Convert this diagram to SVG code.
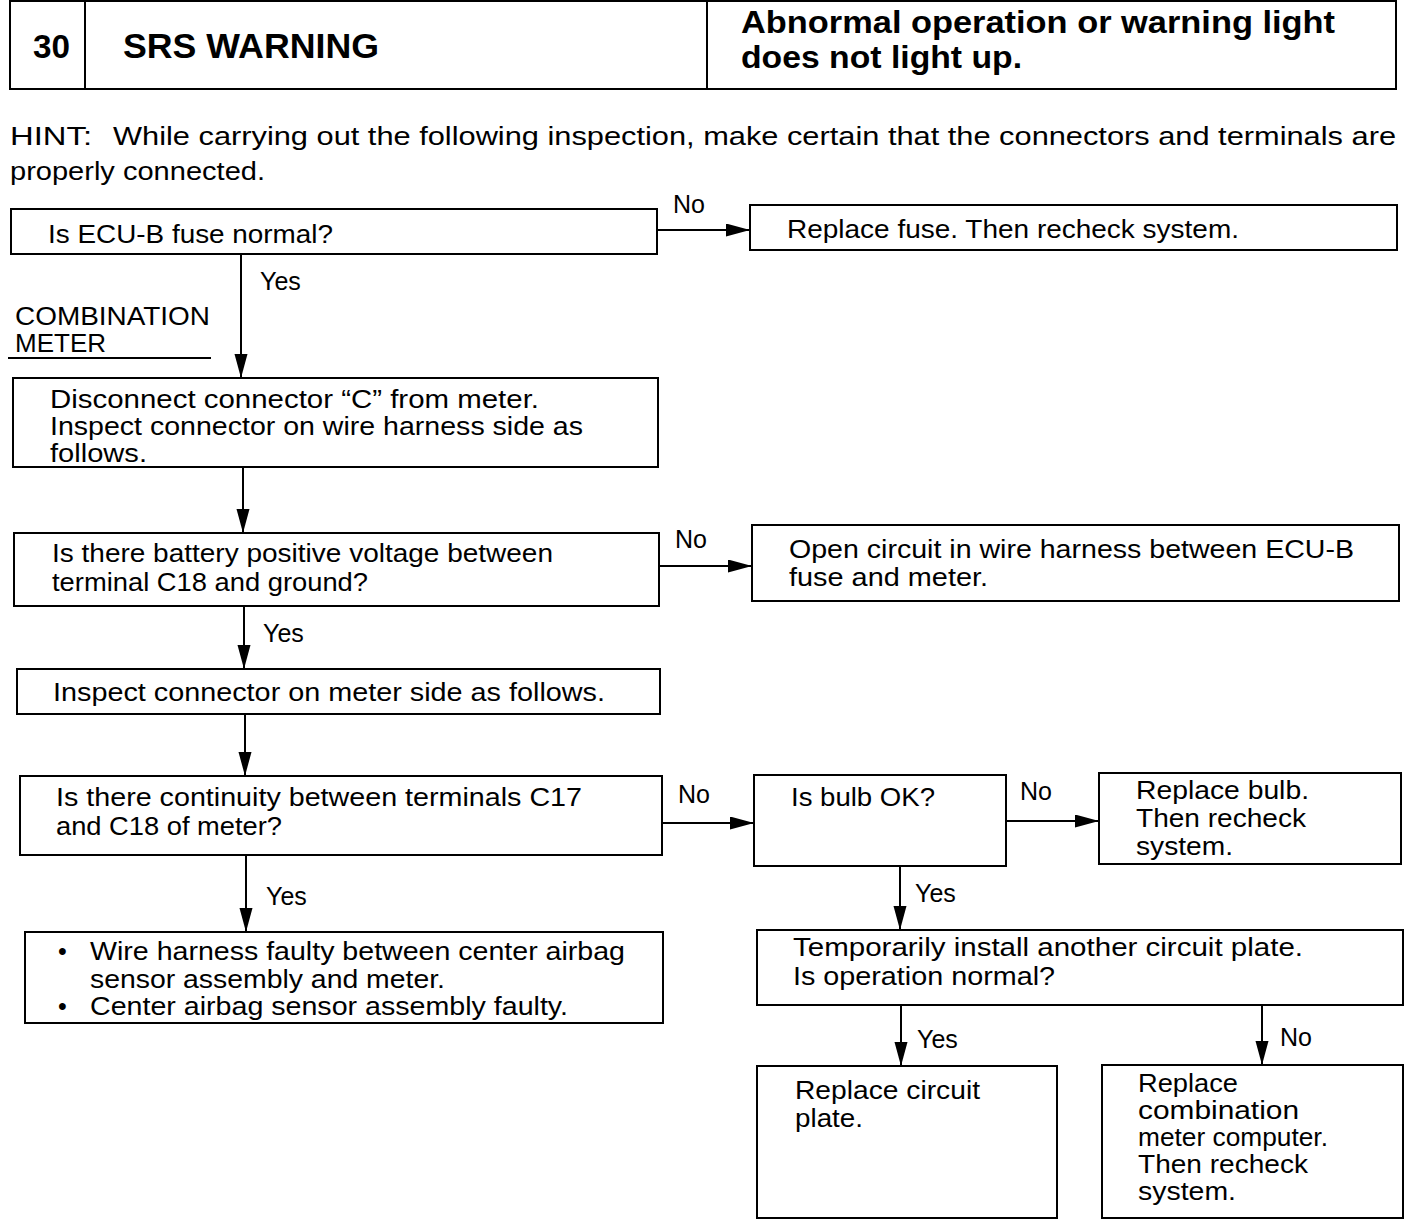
<svg xmlns="http://www.w3.org/2000/svg" width="1408" height="1230" viewBox="0 0 1408 1230">
<style>
.b{fill:#fff;stroke:#000;stroke-width:2}
.t{font-family:"Liberation Sans",Arial,sans-serif;font-size:25px;fill:#000}
.h{font-family:"Liberation Sans",Arial,sans-serif;font-weight:bold;fill:#000}
.c{stroke:#000;stroke-width:2;fill:none}
</style>
<defs>
<marker id="ah" markerUnits="userSpaceOnUse" markerWidth="26" markerHeight="14" refX="24" refY="6.5" orient="auto">
<path d="M0,0 L24,6.5 L0,13 z" fill="#000"/>
</marker>
</defs>
<rect width="1408" height="1230" fill="#fff"/>
<g id="header">
<rect class="b" x="10" y="1" width="1386" height="88" stroke-width="2.5"/>
<line class="c" x1="85" y1="1" x2="85" y2="89"/>
<line class="c" x1="707" y1="1" x2="707" y2="89"/>
<text class="h" x="33" y="58" font-size="33" textLength="37" lengthAdjust="spacingAndGlyphs">30</text>
<text class="h" x="123" y="58" font-size="35" textLength="256" lengthAdjust="spacingAndGlyphs">SRS WARNING</text>
<text class="h" x="741" y="33" font-size="32" textLength="594" lengthAdjust="spacingAndGlyphs">Abnormal operation or warning light</text>
<text class="h" x="741" y="68" font-size="32" textLength="281" lengthAdjust="spacingAndGlyphs">does not light up.</text>
</g>
<g id="hint">
<text class="t" x="10" y="145" textLength="82" lengthAdjust="spacingAndGlyphs">HINT:</text>
<text class="t" x="113" y="145" textLength="1283" lengthAdjust="spacingAndGlyphs">While carrying out the following inspection, make certain that the connectors and terminals are</text>
<text class="t" x="10" y="180" textLength="255" lengthAdjust="spacingAndGlyphs">properly connected.</text>
</g>
<g id="label-meter">
<text class="t" x="15" y="325" textLength="195" lengthAdjust="spacingAndGlyphs">COMBINATION</text>
<text class="t" x="15" y="352" textLength="91" lengthAdjust="spacingAndGlyphs">METER</text>
<line class="c" x1="8" y1="358" x2="211" y2="358" stroke-width="1.5"/>
</g>
<g id="connectors">
<line class="c" x1="657" y1="230" x2="750" y2="230" marker-end="url(#ah)"/>
<line class="c" x1="241" y1="254" x2="241" y2="378" marker-end="url(#ah)"/>
<line class="c" x1="243" y1="467" x2="243" y2="533" marker-end="url(#ah)"/>
<line class="c" x1="659" y1="566" x2="752" y2="566" marker-end="url(#ah)"/>
<line class="c" x1="244" y1="606" x2="244" y2="669" marker-end="url(#ah)"/>
<line class="c" x1="245" y1="714" x2="245" y2="776" marker-end="url(#ah)"/>
<line class="c" x1="662" y1="823" x2="754" y2="823" marker-end="url(#ah)"/>
<line class="c" x1="1006" y1="821" x2="1099" y2="821" marker-end="url(#ah)"/>
<line class="c" x1="246" y1="855" x2="246" y2="932" marker-end="url(#ah)"/>
<line class="c" x1="900" y1="866" x2="900" y2="930" marker-end="url(#ah)"/>
<line class="c" x1="901" y1="1005" x2="901" y2="1066" marker-end="url(#ah)"/>
<line class="c" x1="1262" y1="1005" x2="1262" y2="1065" marker-end="url(#ah)"/>
<text class="t" x="673" y="213">No</text>
<text class="t" x="260" y="290">Yes</text>
<text class="t" x="675" y="548">No</text>
<text class="t" x="263" y="642">Yes</text>
<text class="t" x="678" y="803">No</text>
<text class="t" x="1020" y="800">No</text>
<text class="t" x="266" y="905">Yes</text>
<text class="t" x="915" y="902">Yes</text>
<text class="t" x="917" y="1048">Yes</text>
<text class="t" x="1280" y="1046">No</text>
</g>
<g id="n1">
<rect class="b" x="11" y="209" width="646" height="45"/>
<text class="t" x="48" y="243" textLength="285" lengthAdjust="spacingAndGlyphs">Is ECU-B fuse normal?</text>
</g>
<g id="n2">
<rect class="b" x="750" y="205" width="647" height="45"/>
<text class="t" x="787" y="238" textLength="452" lengthAdjust="spacingAndGlyphs">Replace fuse. Then recheck system.</text>
</g>
<g id="n3">
<rect class="b" x="13" y="378" width="645" height="89"/>
<text class="t" x="50" y="408" textLength="489" lengthAdjust="spacingAndGlyphs">Disconnect connector “C” from meter.</text>
<text class="t" x="50" y="435" textLength="533" lengthAdjust="spacingAndGlyphs">Inspect connector on wire harness side as</text>
<text class="t" x="50" y="462" textLength="97" lengthAdjust="spacingAndGlyphs">follows.</text>
</g>
<g id="n4">
<rect class="b" x="14" y="533" width="645" height="73"/>
<text class="t" x="52" y="562" textLength="501" lengthAdjust="spacingAndGlyphs">Is there battery positive voltage between</text>
<text class="t" x="52" y="591" textLength="316" lengthAdjust="spacingAndGlyphs">terminal C18 and ground?</text>
</g>
<g id="n5">
<rect class="b" x="752" y="525" width="647" height="76"/>
<text class="t" x="789" y="558" textLength="565" lengthAdjust="spacingAndGlyphs">Open circuit in wire harness between ECU-B</text>
<text class="t" x="789" y="586" textLength="199" lengthAdjust="spacingAndGlyphs">fuse and meter.</text>
</g>
<g id="n6">
<rect class="b" x="17" y="669" width="643" height="45"/>
<text class="t" x="53" y="701" textLength="552" lengthAdjust="spacingAndGlyphs">Inspect connector on meter side as follows.</text>
</g>
<g id="n7">
<rect class="b" x="20" y="776" width="642" height="79"/>
<text class="t" x="56" y="806" textLength="526" lengthAdjust="spacingAndGlyphs">Is there continuity between terminals C17</text>
<text class="t" x="56" y="835" textLength="226" lengthAdjust="spacingAndGlyphs">and C18 of meter?</text>
</g>
<g id="n8">
<rect class="b" x="754" y="775" width="252" height="91"/>
<text class="t" x="791" y="806" textLength="144" lengthAdjust="spacingAndGlyphs">Is bulb OK?</text>
</g>
<g id="n9">
<rect class="b" x="1099" y="773" width="302" height="91"/>
<text class="t" x="1136" y="799" textLength="173" lengthAdjust="spacingAndGlyphs">Replace bulb.</text>
<text class="t" x="1136" y="827" textLength="170" lengthAdjust="spacingAndGlyphs">Then recheck</text>
<text class="t" x="1136" y="855" textLength="97" lengthAdjust="spacingAndGlyphs">system.</text>
</g>
<g id="n10">
<rect class="b" x="25" y="932" width="638" height="91"/>
<text class="t" x="58" y="960">•</text>
<text class="t" x="90" y="960" textLength="535" lengthAdjust="spacingAndGlyphs">Wire harness faulty between center airbag</text>
<text class="t" x="90" y="988" textLength="355" lengthAdjust="spacingAndGlyphs">sensor assembly and meter.</text>
<text class="t" x="58" y="1015">•</text>
<text class="t" x="90" y="1015" textLength="478" lengthAdjust="spacingAndGlyphs">Center airbag sensor assembly faulty.</text>
</g>
<g id="n11">
<rect class="b" x="757" y="930" width="646" height="75"/>
<text class="t" x="793" y="956" textLength="510" lengthAdjust="spacingAndGlyphs">Temporarily install another circuit plate.</text>
<text class="t" x="793" y="985" textLength="262" lengthAdjust="spacingAndGlyphs">Is operation normal?</text>
</g>
<g id="n12">
<rect class="b" x="757" y="1066" width="300" height="152"/>
<text class="t" x="795" y="1099" textLength="185" lengthAdjust="spacingAndGlyphs">Replace circuit</text>
<text class="t" x="795" y="1127" textLength="68" lengthAdjust="spacingAndGlyphs">plate.</text>
</g>
<g id="n13">
<rect class="b" x="1102" y="1065" width="301" height="153"/>
<text class="t" x="1138" y="1092" textLength="100" lengthAdjust="spacingAndGlyphs">Replace</text>
<text class="t" x="1138" y="1119" textLength="161" lengthAdjust="spacingAndGlyphs">combination</text>
<text class="t" x="1138" y="1146" textLength="190" lengthAdjust="spacingAndGlyphs">meter computer.</text>
<text class="t" x="1138" y="1173" textLength="170" lengthAdjust="spacingAndGlyphs">Then recheck</text>
<text class="t" x="1138" y="1200" textLength="98" lengthAdjust="spacingAndGlyphs">system.</text>
</g>
</svg>
